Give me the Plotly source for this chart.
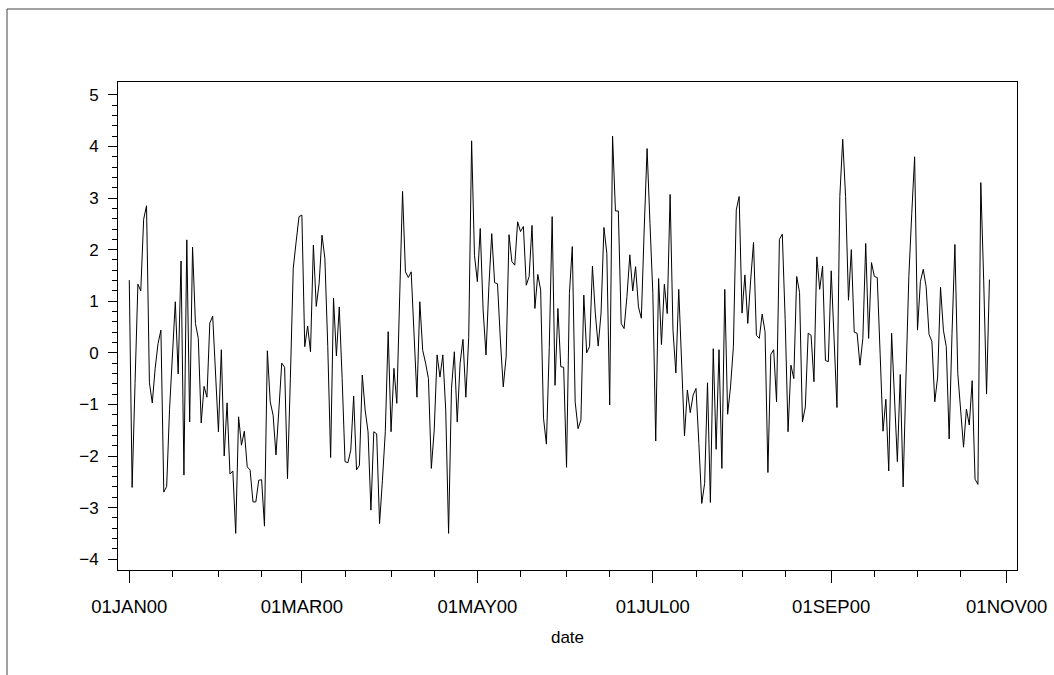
import pandas as pd
import numpy as np
import plotly.graph_objects as go

start_date = "2000-01-01"
values = [
    1.41, -2.61, -0.6, 1.33, 1.20, 2.59, 2.85, -0.58, -0.97, -0.3,
    0.18, 0.44, -2.70, -2.59, -1.1, 0.0, 0.99, -0.41, 1.78, -2.37,
    2.19, -1.34, 2.05, 0.57, 0.28, -1.36, -0.65, -0.86, 0.58, 0.71,
    -0.4, -1.53, 0.06, -2.0, -0.97, -2.35, -2.29, -3.5, -1.24, -1.79,
    -1.52, -2.21, -2.27, -2.89, -2.89, -2.47, -2.46, -3.36, 0.04, -0.95,
    -1.21, -1.98, -1.11, -0.2, -0.28, -2.44, -0.5, 1.64, 2.15, 2.64,
    2.67, 0.12, 0.52, 0.02, 2.09, 0.9, 1.35, 2.28, 1.83, 0.12,
    -2.03, 1.06, -0.06, 0.89, -0.5, -2.11, -2.13, -1.89, -0.84, -2.27,
    -2.18, -0.43, -1.11, -1.53, -3.05, -1.53, -1.57, -3.31, -2.47, -1.53,
    0.41, -1.53, -0.3, -0.98, 1.1, 3.13, 1.57, 1.46, 1.57, 0.35,
    -0.86, 0.99, 0.05, -0.2, -0.5, -2.24, -1.5, -0.04, -0.47, -0.04,
    -1.11, -3.5, -0.69, 0.02, -1.34, -0.2, 0.26, -0.86, 0.3, 4.11,
    1.89, 1.38, 2.41, 0.83, -0.04, 1.28, 2.31, 1.36, 1.34, 0.25,
    -0.66, -0.08, 2.29, 1.77, 1.70, 2.54, 2.35, 2.45, 1.31, 1.48,
    2.47, 0.86, 1.52, 1.22, -1.27, -1.77, 0.1, 2.64, -0.63, 0.86,
    -0.27, -0.28, -2.22, 1.15, 2.06, -0.95, -1.47, -1.3, 1.12, 0.0,
    0.12, 1.68, 0.77, 0.13, 0.77, 2.43, 1.93, -1.01, 4.2, 2.75,
    2.75, 0.57, 0.47, 1.09, 1.9, 1.2, 1.67, 0.89, 0.67, 2.4,
    3.96, 2.51, 1.15, -1.71, 1.44, 0.16, 1.33, 0.76, 3.07, 0.44,
    -0.39, 1.23, -0.08, -1.61, -0.72, -1.16, -0.82, -0.69, -1.76, -2.92,
    -2.53, -0.58, -2.9, 0.08, -1.87, 0.06, -2.24, 1.23, -1.19, -0.66,
    0.12, 2.77, 3.03, 0.77, 1.51, 0.57, 1.41, 2.14, 0.34, 0.28,
    0.75, 0.41, -2.32, -0.03, 0.06, -0.95, 2.2, 2.3, 0.64, -1.53,
    -0.24, -0.5, 1.48, 1.17, -1.34, -1.05, 0.38, 0.34, -0.56, 1.86,
    1.23, 1.68, -0.15, -0.17, 1.59, 0.12, -1.06, 3.03, 4.14, 3.03,
    1.02, 2.0, 0.4, 0.38, -0.24, 0.28, 2.12, 0.28, 1.75, 1.48,
    1.46, -0.01, -1.52, -0.9, -2.29, 0.38, -0.79, -2.11, -0.42, -2.6,
    -0.45, 1.5, 2.7, 3.8, 0.44, 1.38, 1.62, 1.28, 0.36, 0.22,
    -0.95, -0.47, 1.27, 0.44, 0.12, -1.67, 0.38, 2.1, -0.4, -1.11,
    -1.83, -1.09, -1.4, -0.54, -2.45, -2.55, 3.3, 1.41, -0.8, 1.42,
]
x_tick_dates = ["2000-01-01", "2000-03-01", "2000-05-01", "2000-07-01", "2000-09-01", "2000-11-01"]
x_tick_labels = ["01JAN00", "01MAR00", "01MAY00", "01JUL00", "01SEP00", "01NOV00"]
y_tick_values = [-4, -3, -2, -1, 0, 1, 2, 3, 4, 5]
x_title = "date"

dates = pd.date_range(start_date, periods=len(values), freq="D")

# minor ticks: 1st and 16th of each month, excluding major ticks
minor_x = []
for m in range(1, 11):
    for d in (1, 16):
        ts = pd.Timestamp(2000, m, d)
        if ts.strftime("%Y-%m-%d") not in x_tick_dates:
            minor_x.append(ts)
minor_y = [round(v, 1) for v in np.arange(-4, 5.001, 0.2) if abs(v - round(v)) > 1e-6]

font = "Liberation Sans, Arial, sans-serif"

fig = go.Figure()
fig.add_trace(go.Scatter(x=dates, y=values, mode="lines",
                         line=dict(color="black", width=1), showlegend=False,
                         hoverinfo="skip"))

fig.update_layout(
    width=1054, height=675,
    margin=dict(l=118, r=37, t=82, b=105, autoexpand=False),
    paper_bgcolor="white", plot_bgcolor="white",
    font=dict(family=font, size=18, color="black"),
    xaxis=dict(
        range=[pd.Timestamp("1999-12-28 02:00"), pd.Timestamp("2000-11-04 14:00")],
        automargin=False,
        tickmode="array", tickvals=x_tick_dates, ticktext=x_tick_labels,
        ticks="outside", ticklen=12, tickwidth=1, tickcolor="black",
        showline=True, mirror=True, linecolor="black", linewidth=1,
        showgrid=False, zeroline=False,
        tickfont=dict(size=18.5),
        ticklabelstandoff=8,
        minor=dict(tickmode="array", tickvals=minor_x, ticks="outside",
                   ticklen=6, tickwidth=1, tickcolor="black", showgrid=False),
        title=dict(text=x_title, font=dict(size=17), standoff=14),
    ),
    yaxis=dict(
        range=[-4.21, 5.25],
        automargin=False,
        tickmode="array", tickvals=y_tick_values,
        ticks="outside", ticklen=9, tickwidth=1, tickcolor="black",
        showline=True, mirror=True, linecolor="black", linewidth=1,
        showgrid=False, zeroline=False,
        tickfont=dict(size=17),
        ticklabelstandoff=6,
        minor=dict(tickmode="array", tickvals=minor_y, ticks="outside",
                   ticklen=5, tickwidth=1, tickcolor="black", showgrid=False),
    ),
)

# outer frame (right and bottom edges lie beyond the visible page)
fig.add_shape(type="rect", xref="paper", yref="paper",
              x0=(7 - 118) / 899, x1=(1070 - 118) / 899,
              y0=(570 - 690) / 488, y1=(570 - 9) / 488,
              line=dict(color="#444444", width=1), fillcolor="rgba(0,0,0,0)",
              layer="below")

fig.write_html("out.html", config={"displayModeBar": False},
               post_script="document.body.style.margin='0';document.body.style.overflow='hidden';")
